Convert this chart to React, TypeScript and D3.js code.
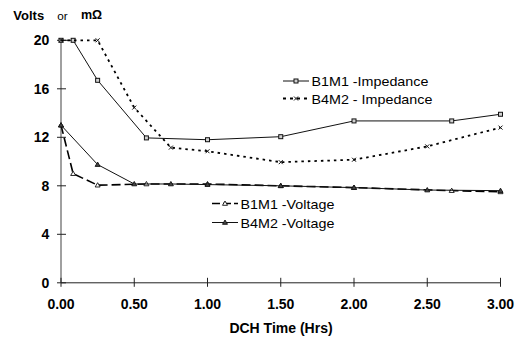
import React from "react";
import * as d3 from "d3";

const xB1 = [0, 0.083, 0.25, 0.583, 1.0, 1.5, 2.0, 2.667, 3.0];
const xB4 = [0, 0.25, 0.5, 0.75, 1.0, 1.5, 2.0, 2.5, 3.0];
const b1Imp = [20, 20, 16.7, 11.95, 11.8, 12.05, 13.35, 13.35, 13.9];
const b4Imp = [20, 20, 14.45, 11.15, 10.85, 9.95, 10.15, 11.25, 12.8];
const b1Volt = [13.0, 9.0, 8.05, 8.15, 8.15, 8.0, 7.85, 7.6, 7.5];
const b4Volt = [13.0, 9.75, 8.15, 8.15, 8.1, 8.0, 7.85, 7.65, 7.6];
const xTicks = [0, 0.5, 1.0, 1.5, 2.0, 2.5, 3.0];
const yTicks = [0, 4, 8, 12, 16, 20];

const FONT = "'Liberation Sans', Arial, sans-serif";

type Marker = "square" | "x" | "triOpen" | "triFilled";

function MarkerShape({ kind, cx, cy }: { kind: Marker; cx: number; cy: number }) {
  if (kind === "square")
    return <rect x={cx - 2} y={cy - 2} width={4} height={4} fill="#d0d0d0" stroke="#111" strokeWidth={1} />;
  if (kind === "x")
    return (
      <path d={`M${cx - 2},${cy - 2}L${cx + 2},${cy + 2}M${cx - 2},${cy + 2}L${cx + 2},${cy - 2}`} stroke="#111" strokeWidth={1} />
    );
  if (kind === "triOpen")
    return <path d={`M${cx},${cy - 2.5}L${cx + 2.5},${cy + 1.8}L${cx - 2.5},${cy + 1.8}Z`} fill="#fff" stroke="#111" strokeWidth={0.9} />;
  return <path d={`M${cx},${cy - 2.5}L${cx + 2.5},${cy + 1.8}L${cx - 2.5},${cy + 1.8}Z`} fill="#444" stroke="#111" strokeWidth={0.9} />;
}

export default function App() {
  const x = d3.scaleLinear().domain([0, 3]).range([61, 500.5]);
  const y = d3.scaleLinear().domain([0, 20]).range([282.8, 40.3]);

  const line = d3
    .line<[number, number]>()
    .x((d) => x(d[0]))
    .y((d) => y(d[1]));

  const series = [
    { xs: xB1, ys: b1Imp, marker: "square" as Marker, dash: undefined, legDash: undefined, width: 1, color: "#111" },
    { xs: xB4, ys: b4Imp, marker: "x" as Marker, dash: "2.5,4", legDash: "3,4", width: 1.8, color: "#000" },
    { xs: xB1, ys: b1Volt, marker: "triOpen" as Marker, dash: "9,4", legDash: "8,3", width: 1.6, color: "#000" },
    { xs: xB4, ys: b4Volt, marker: "triFilled" as Marker, dash: undefined, legDash: undefined, width: 1, color: "#111" },
  ];

  const legends = [
    { s: 0, lx: 283, ly: 81, label: "B1M1 -Impedance" },
    { s: 1, lx: 283, ly: 98.5, label: "B4M2 - Impedance" },
    { s: 2, lx: 212, ly: 203.5, label: "B1M1 -Voltage" },
    { s: 3, lx: 212, ly: 222.5, label: "B4M2 -Voltage" },
  ];

  return (
    <svg width={521} height={340} style={{ position: "absolute", left: 0, top: 0, background: "#fff" }} fontFamily={FONT}>
      {/* y axis */}
      <line x1={x(0)} x2={x(0)} y1={y(20)} y2={y(0)} stroke="#808080" strokeWidth={1.5} />
      {yTicks.map((t) => (
        <g key={t}>
          <line x1={x(0) - 4} x2={x(0) + 5} y1={y(t)} y2={y(t)} stroke="#222" strokeWidth={1} />
          <text x={49.3} y={y(t) + 5} textAnchor="end" fontSize={14} fontWeight="bold">
            {t}
          </text>
        </g>
      ))}
      {/* x axis */}
      <line x1={x(0)} x2={x(3)} y1={y(0)} y2={y(0)} stroke="#222" strokeWidth={1} />
      {xTicks.map((t) => (
        <g key={t}>
          <line x1={x(t)} x2={x(t)} y1={y(0) - 5} y2={y(0) + 4} stroke="#222" strokeWidth={1} />
          <text x={x(t)} y={309} textAnchor="middle" fontSize={14} fontWeight="bold">
            {t.toFixed(2)}
          </text>
        </g>
      ))}
      <text x={281} y={333} textAnchor="middle" fontSize={14} fontWeight="bold">
        DCH Time (Hrs)
      </text>
      <text x={13.3} y={20} fontSize={13} fontWeight="bold">
        Volts
      </text>
      <text x={57.3} y={20} fontSize={11.7}>
        or
      </text>
      <text x={81} y={18.5} fontSize={12.5} fontWeight="bold">
        mΩ
      </text>

      {series.map((s, i) => {
        const pts: [number, number][] = s.xs.map((v, j) => [v, s.ys[j]]);
        return (
          <g key={i}>
            <path d={line(pts) || ""} fill="none" stroke={s.color} strokeWidth={s.width} strokeDasharray={s.dash} />
            {pts.map((p, j) => (
              <MarkerShape key={j} kind={s.marker} cx={x(p[0])} cy={y(p[1])} />
            ))}
          </g>
        );
      })}

      {legends.map((l, i) => {
        const s = series[l.s];
        return (
          <g key={i}>
            <line x1={l.lx} x2={l.lx + 26} y1={l.ly} y2={l.ly} stroke={s.color} strokeWidth={s.width} strokeDasharray={s.legDash} />
            <MarkerShape kind={s.marker} cx={l.lx + 13} cy={l.ly} />
            <text transform={`translate(${l.lx + 28.5},${l.ly + 5}) scale(1.06,1)`} fontSize={13.5}>
              {l.label}
            </text>
          </g>
        );
      })}
    </svg>
  );
}
